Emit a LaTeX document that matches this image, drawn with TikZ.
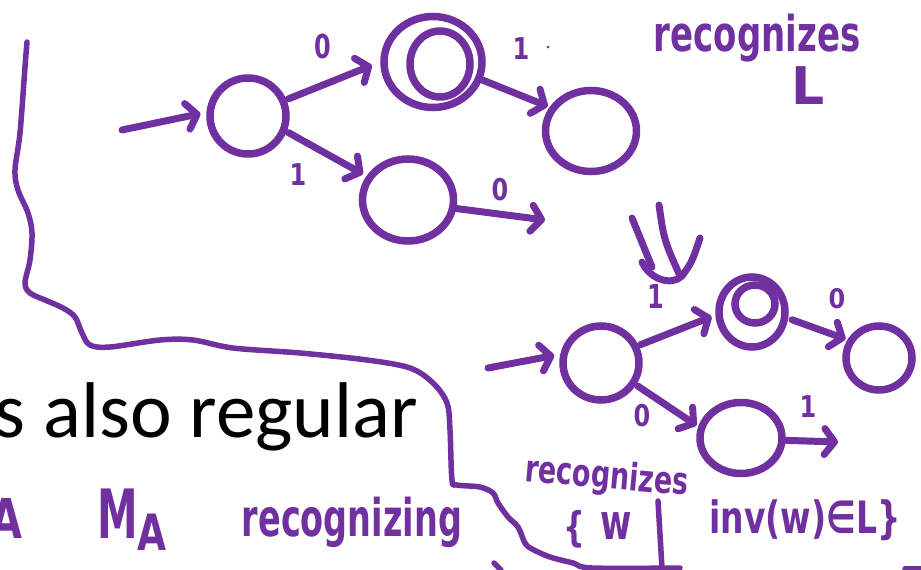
\documentclass[tikz,border=0pt]{standalone}
\usepackage{fontspec}
\usetikzlibrary{arrows.meta,shapes.geometric}
\newfontfamily\slidefont{Carlito}
\newfontfamily\handfont{DejaVu Sans}
\definecolor{ink}{RGB}{112,48,160}
% scaled handwriting-style text: \hwtext{size}{xscale}{yscale}{text}
\newcommand\hwtext[4]{\scalebox{#2}[#3]{\fontsize{#1}{#1}\selectfont #4}}
\begin{document}
\begin{tikzpicture}[x=1pt,y=-1pt,
  state/.style={draw=ink,ellipse,inner sep=0pt,line width=7.5pt},
  conn/.style={draw=ink,line width=7pt,line cap=round,line join=round,
    -{Straight Barb[length=10pt,width=26pt,round]}},
  stroke/.style={draw=ink,line width=7pt,line cap=round,line join=round},
  hand/.style={text=ink,inner sep=0pt,font=\handfont\bfseries},
  digit/.style={hand},
]
\useasboundingbox (0,0) rectangle (921,570);

% slide text
\node[anchor=base east,inner sep=0pt,font=\slidefont\fontsize{79}{79}\selectfont] (slide) at (418,437) {s also regular};

% enclosing hand-drawn curve
\draw[draw=ink,line width=5.5pt,line cap=round,line join=round] plot[smooth,tension=0.55] coordinates {
  (27,42) (25,67) (20,133) (15,170) (18,190) (28,213) (32,233) (30,260) (25,283)
  (30,293) (45,300) (63,308) (75,317) (82,333) (90,345) (110,347) (160,340)
  (193,340) (233,348) (300,353) (367,360) (410,368) (433,383) (447,403)
  (450,430) (452,480) (457,485) (480,487) (493,493) (498,503) (508,517)
  (518,527) (525,543) (532,549) (550,557) (573,563) (592,568) (680,568)};
\draw[draw=ink,line width=5.5pt,line cap=round] (905,569) -- (921,569);
\draw[draw=ink,line width=5.5pt,line cap=round] (658,501) -- (662,568);
\draw[draw=ink,line width=5.5pt,line cap=round] (494,563) -- (501,570);

% upper automaton
\node[state,minimum width=76pt,minimum height=76pt] (q0) at (248,116) {};
\node[state,minimum width=98pt,minimum height=91pt] (acc) at (433,62) {};
\node[state,minimum width=60pt,minimum height=66pt] (acci) at (440,64) {};
\node[state,minimum width=91pt,minimum height=81pt] (r1) at (591,131) {};
\node[state,minimum width=91pt,minimum height=82pt] (lo) at (408,200) {};
\coordinate (s1) at (122,130);
\coordinate (e1) at (545,220);
\draw[conn,shorten >=6pt] (s1) -- (q0.175);
\draw[conn,shorten >=9pt,shorten <=2pt] (q0.23) -- (acc.180);
\draw[conn,shorten >=2pt] (acc.-20) -- (r1.150);
\draw[conn,shorten >=4pt,shorten <=2pt] (q0.-22) -- (lo.150);
\draw[conn] (lo.-10) -- (e1);
\node[digit] (l01) at (323,46) {\hwtext{30}{0.8}{1.1}{0}};
\node[digit] (l02) at (521,49) {\hwtext{30}{0.8}{1.0}{1}};
\fill[ink] (548,47) circle (1.5);
\node[digit] (l03) at (298,175) {\hwtext{30}{0.8}{1.0}{1}};
\node[digit] (l04) at (500,190) {\hwtext{30}{0.8}{1.0}{0}};
\node[hand] (rec1) at (757,38) {\hwtext{34}{1}{1.45}{recognizes}};
\node[hand] (lang) at (808,86) {\hwtext{52}{1}{1}{L}};

% double arrow between the two machines
\draw[stroke] (632,218) -- (652,267);
\draw[stroke] (659,205) .. controls (664,240) .. (680,276);
\draw[stroke] (642,262) .. controls (650,280) and (672,286) .. (682,276)
  .. controls (692,262) .. (700,238);

% lower automaton
\node[state,minimum width=76pt,minimum height=74pt] (q0b) at (601,363) {};
\node[state,minimum width=66pt,minimum height=70pt] (accb) at (752,312) {};
\node[state,minimum width=40pt,minimum height=38pt] (accbi) at (755,304) {};
\node[state,minimum width=66pt,minimum height=64pt] (rb) at (879,358) {};
\node[state,minimum width=82pt,minimum height=71pt] (lob) at (741,438) {};
\coordinate (s2) at (488,368);
\coordinate (e2) at (838,442);
\draw[conn,shorten >=6pt] (s2) -- (q0b.168);
\draw[conn,shorten >=4pt,shorten <=2pt] (q0b.25) -- (accb.185);
\draw[conn,shorten >=2pt,shorten <=4pt] (accb.-10) -- (rb.150);
\draw[conn,shorten >=2pt,shorten <=2pt] (q0b.-32) -- (lob.165);
\draw[conn] (lob.-3) -- (e2);
\node[digit] (l05) at (656,296) {\hwtext{30}{0.8}{1.1}{1}};
\node[digit] (l06) at (837,299) {\hwtext{30}{0.8}{0.9}{0}};
\node[digit] (l07) at (642,416) {\hwtext{30}{0.8}{1.0}{0}};
\node[digit] (l08) at (808,407) {\hwtext{30}{0.8}{1.0}{1}};

% handwritten notes
\node[hand,rotate=-5] (rec2) at (607,478) {\hwtext{27}{1}{1.4}{recognizes}};
\node[hand] (brace) at (574,529) {\hwtext{34}{0.9}{1.2}{\{}};
\node[hand] (wvar) at (616,526) {\hwtext{34}{1}{1.45}{w}};
\node[hand] (cond) at (805,520) {\hwtext{33}{1}{1.35}{inv(w)∈L\}}};
\node[hand] (left) at (6,518) {\hwtext{55}{0.75}{1}{A}};
\node[hand] (mach) at (132,520) {\hwtext{68}{0.6}{1}{M}\raisebox{-12pt}{\hwtext{50}{0.75}{1}{A}}};
\node[hand] (rec3) at (352,522) {\hwtext{33.5}{1}{1.55}{recognizing}};
\end{tikzpicture}
\end{document}
